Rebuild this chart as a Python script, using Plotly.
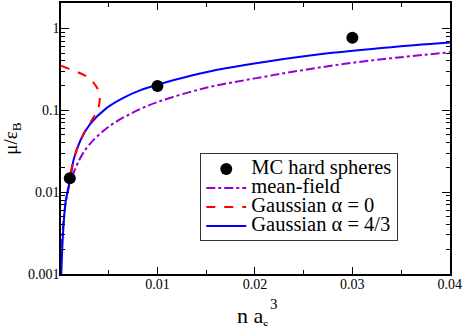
import plotly.graph_objects as go

# MC hard spheres
mc_x = [0.001, 0.01, 0.03]
mc_y = [0.0148, 0.198, 0.77]

# mean-field
mf_x = [0.0001, 0.0002, 0.0005, 0.001, 0.002, 0.003, 0.005, 0.0075, 0.01,
        0.015, 0.02, 0.025, 0.03, 0.035, 0.04]
mf_y = [0.00126, 0.0025, 0.0063, 0.0126, 0.025, 0.038, 0.063, 0.094, 0.126,
        0.188, 0.245, 0.31, 0.38, 0.445, 0.51]

# Gaussian alpha = 0 (turns back on itself)
g0_x = [0.00012, 0.0008, 0.00158, 0.00295, 0.0038, 0.00407, 0.0039, 0.0032,
        0.0025, 0.0019, 0.00148, 0.0012, 0.00108]
g0_y = [0.35, 0.325, 0.30, 0.25, 0.188, 0.143, 0.102, 0.074,
        0.054, 0.037, 0.027, 0.020, 0.017]

# Gaussian alpha = 4/3
g43_x = [0.00013, 0.0003, 0.00056, 0.0008, 0.00107, 0.0014, 0.0021, 0.0031,
         0.0048, 0.0065, 0.0082, 0.01, 0.0135, 0.017, 0.0213, 0.0277, 0.034,
         0.04]
g43_y = [0.001, 0.003, 0.0074, 0.0106, 0.0148, 0.025, 0.043, 0.068,
         0.107, 0.142, 0.175, 0.205, 0.266, 0.325, 0.395, 0.50, 0.59, 0.67]

y_ticks = [0.001, 0.01, 0.1, 1]
y_labels = ["0.001", "0.01", "0.1", "1"]
y_minor = [m * 10 ** e for e in (-3, -2, -1, 0) for m in range(2, 10)]
x_ticks = [0.01, 0.02, 0.03, 0.04]
x_labels = ["0.01", "0.02", "0.03", "0.04"]
x_minor = [0.005, 0.015, 0.025, 0.035]

serif = "Liberation Serif"


def leg(name):
    # big legend text, compact rows (row height follows legend font size)
    return '<span style="font-size:20.5px">' + name + "</span>"


fig = go.Figure()

fig.add_trace(go.Scatter(
    x=mf_x, y=mf_y, mode="lines", name=leg("mean-field"), legendrank=2,
    line=dict(color="#9400D3", width=2, dash="dashdot", shape="spline")
))
fig.add_trace(go.Scatter(
    x=g43_x, y=g43_y, mode="lines", name=leg("Gaussian α = 4/3"), legendrank=4,
    line=dict(color="#0000FF", width=2, shape="spline", smoothing=0.8)
))
fig.add_trace(go.Scatter(
    x=g0_x, y=g0_y, mode="lines", name=leg("Gaussian α = 0"), legendrank=3,
    line=dict(color="#FF0000", width=2, dash="dash", shape="spline", smoothing=0.8)
))
fig.add_trace(go.Scatter(
    x=mc_x, y=mc_y, mode="markers", name=leg("MC hard spheres"), legendrank=1,
    marker=dict(color="black", size=12)
))

axis_common = dict(
    showline=True, linecolor="black", linewidth=1.5, mirror="ticks",
    ticks="inside", tickcolor="black", showgrid=False, zeroline=False,
    tickfont=dict(family=serif, size=14, color="black"),
)

fig.update_xaxes(
    range=[0.0001, 0.04002], tickmode="array", tickvals=x_ticks,
    ticktext=x_labels, ticklen=7, ticklabelstandoff=-4,
    minor=dict(ticks="inside", ticklen=4, tickmode="array", tickvals=x_minor,
               tickcolor="black", showgrid=False),
    **axis_common
)
fig.update_yaxes(
    type="log", range=[-3, 0.31], tickmode="array", tickvals=y_ticks,
    ticktext=y_labels, ticklen=8, ticklabelstandoff=-3,
    minor=dict(ticks="inside", ticklen=4, tickmode="array", tickvals=y_minor,
               tickcolor="black", showgrid=False),
    title=dict(text="μ/ε<sub>B</sub>", standoff=7,
               font=dict(family=serif, size=19, color="black")),
    **axis_common
)

# x title with stacked sub/superscript
fig.add_annotation(text="n a", xref="paper", yref="paper", x=0.486, y=-0.208,
                   xanchor="center", yanchor="bottom", showarrow=False,
                   font=dict(family=serif, size=22, color="black"))
fig.add_annotation(text="3", xref="paper", yref="paper", x=0.533, y=-0.072,
                   xanchor="left", yanchor="top", showarrow=False,
                   font=dict(family=serif, size=15, color="black"))
fig.add_annotation(text="s", xref="paper", yref="paper", x=0.515, y=-0.222,
                   xanchor="left", yanchor="bottom", showarrow=False,
                   font=dict(family=serif, size=14, color="black"))

fig.update_layout(
    width=463, height=326,
    margin=dict(l=61, r=13, t=1, b=52),
    plot_bgcolor="white", paper_bgcolor="white",
    legend=dict(
        x=0.358, y=0.445, xanchor="left", yanchor="top",
        bgcolor="white", bordercolor="#333", borderwidth=1,
        font=dict(family=serif, size=12, color="black"),
        tracegroupgap=0, itemwidth=40,
    ),
)

fig.write_html("out.html", config={"displayModeBar": False},
               post_script="document.body.style.margin='0';")
